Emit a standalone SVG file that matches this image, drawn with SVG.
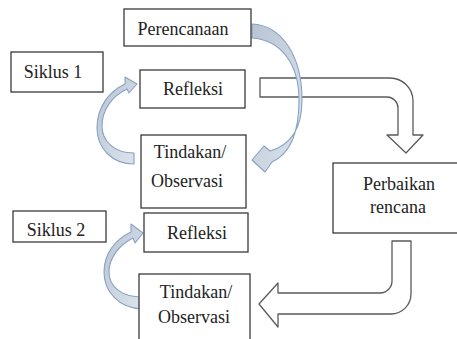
<svg xmlns="http://www.w3.org/2000/svg" width="457" height="339" viewBox="0 0 457 339">
<style>
.box{fill:#fff;stroke:#3a3a3a;stroke-width:1.3}
.t{font-family:'Liberation Serif','DejaVu Serif',serif;font-size:18px;fill:#222;text-anchor:middle}
.wa{fill:#fff;stroke:#5a5a5a;stroke-width:1.3;stroke-linejoin:round}
.ba{fill:url(#bg);stroke:#86a2c4;stroke-width:1.1;stroke-linejoin:round}
</style>
<defs>
<linearGradient id="bg" x1="0" y1="0" x2="1" y2="1">
<stop offset="0" stop-color="#b9c3d2"/>
<stop offset="1" stop-color="#dde4ed"/>
</linearGradient>
</defs>
<rect width="457" height="339" fill="#fff"/>
<g id="connectors">
<path class="wa" d="M260,78 L390,78 A23,23 0 0 1 413,101 L413,135 L423,135 L406,153 L387,135 L398,135 L398,108 A11,11 0 0 0 387,97 L260,97 Z"/>
<path class="wa" d="M392,241 L411,241 L411,294 A20,20 0 0 1 391,314 L278,314 L278,327 L259,304 L278,283 L278,293 L380,293 A12,12 0 0 0 392,281 Z"/>
<path class="ba" d="M252,24 C281,25 302,55 302,100 C302,128 291,145 270,151 L264,146 L252,160 L265,172 L272,162 C292,153 299,130 299,100 C299,64 281,40 252,38 Z"/>
<path class="ba" d="M134,164 C112,164 97,148 97,128 C97,106 110,91 125,84 L125,77 L137,84 L129,93 L127,89 C112,96 102,110 102,126 C102,141 114,153 134,153 Z"/>
<path class="ba" d="M142,309 C119,308 104,292 104,272 C104,253 116,239 131,232 L131,224 L143,233 L135,243 L133,238 C119,245 109,258 109,272 C109,287 122,297 142,297 Z"/>
</g>
<g id="perencanaan"><rect class="box" x="124" y="9" width="127" height="37"/><text class="t" font-family="Liberation Serif, serif" x="183" y="35">Perencanaan</text></g>
<g id="siklus1"><rect class="box" x="11" y="52" width="92" height="40"/><text class="t" font-family="Liberation Serif, serif" x="53" y="78">Siklus 1</text></g>
<g id="refleksi1"><rect class="box" x="140" y="70" width="105" height="38"/><text class="t" font-family="Liberation Serif, serif" x="193" y="95">Refleksi</text></g>
<g id="tindakan1"><rect class="box" x="141" y="135" width="105" height="73"/><text class="t" font-family="Liberation Serif, serif" x="190" y="158">Tindakan/</text><text class="t" font-family="Liberation Serif, serif" x="187" y="187">Observasi</text></g>
<g id="siklus2"><rect class="box" x="13" y="211" width="93" height="31"/><text class="t" font-family="Liberation Serif, serif" x="56" y="236">Siklus 2</text></g>
<g id="refleksi2"><rect class="box" x="144" y="213" width="104" height="39"/><text class="t" font-family="Liberation Serif, serif" x="197" y="239">Refleksi</text></g>
<g id="tindakan2"><rect class="box" x="139" y="274" width="111" height="70"/><text class="t" font-family="Liberation Serif, serif" x="196" y="298">Tindakan/</text><text class="t" font-family="Liberation Serif, serif" x="194" y="323">Observasi</text></g>
<g id="perbaikan"><rect class="box" x="333" y="163" width="126" height="70"/><text class="t" font-family="Liberation Serif, serif" x="399" y="190">Perbaikan</text><text class="t" font-family="Liberation Serif, serif" x="398" y="213">rencana</text></g>
</svg>
